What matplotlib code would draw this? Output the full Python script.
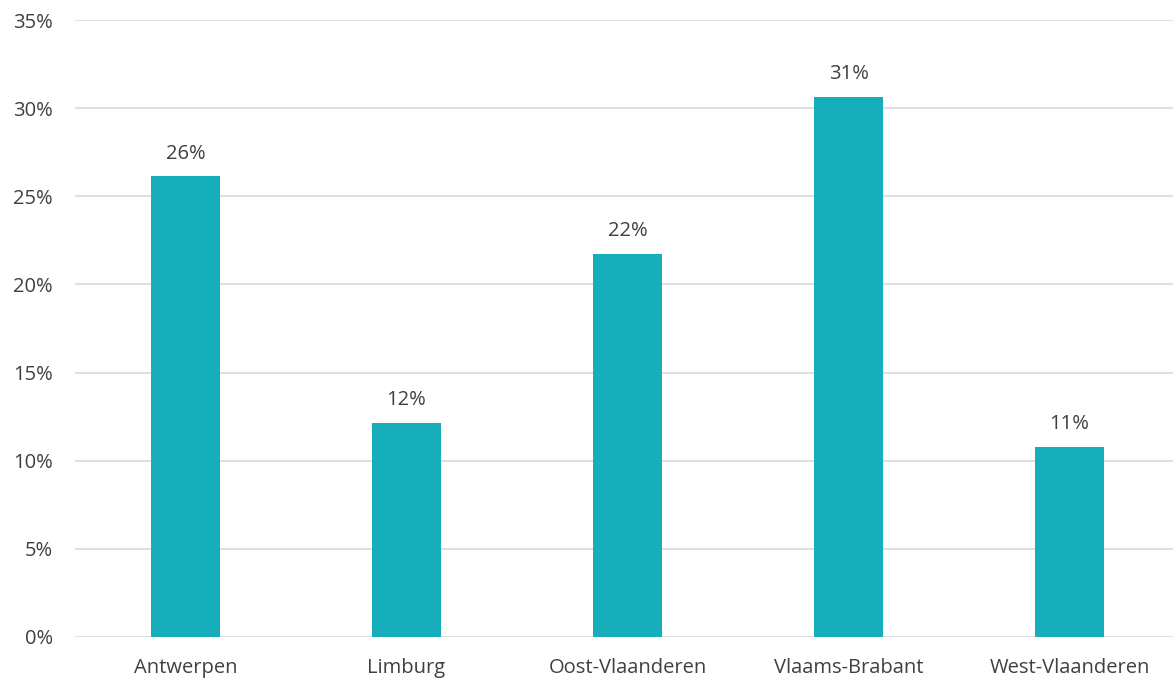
import matplotlib
matplotlib.use("Agg")
import matplotlib.pyplot as plt
from matplotlib.ticker import FuncFormatter

provincies = ["Antwerpen", "Limburg", "Oost-Vlaanderen", "Vlaams-Brabant", "West-Vlaanderen"]
aandeel = [26.15, 12.15, 21.75, 30.65, 10.8]
labels = ["26%", "12%", "22%", "31%", "11%"]

plt.rcParams["font.family"] = ["Open Sans", "DejaVu Sans"]
tekst = "#404040"

fig = plt.figure(figsize=(11.73, 6.81), dpi=100)
ax = fig.add_axes([75 / 1173, 1 - 637 / 681, 1105 / 1173, 617 / 681])

x = range(len(provincies))
ax.bar(x, aandeel, width=0.315, color="#15AEBA", zorder=3)
for xi, v, lab in zip(x, aandeel, labels):
    ax.text(xi, v + 0.7, lab, ha="center", va="bottom", fontsize=14.5, color=tekst)

ax.set_xlim(-0.5, 4.5)
ax.set_ylim(0, 35)
ax.set_yticks(range(0, 36, 5))
ax.yaxis.set_major_formatter(FuncFormatter(lambda v, p: f"{int(v)}%"))
ax.set_xticks(list(x))
ax.set_xticklabels(provincies)
ax.tick_params(axis="both", length=0, labelsize=14.5, labelcolor=tekst)
ax.tick_params(axis="x", pad=15)
ax.tick_params(axis="y", pad=16)
ax.grid(axis="y", color="#d9d9d9", linewidth=1.2, zorder=0)
for s in ax.spines.values():
    s.set_visible(False)

fig.savefig("out.png", dpi=100)
